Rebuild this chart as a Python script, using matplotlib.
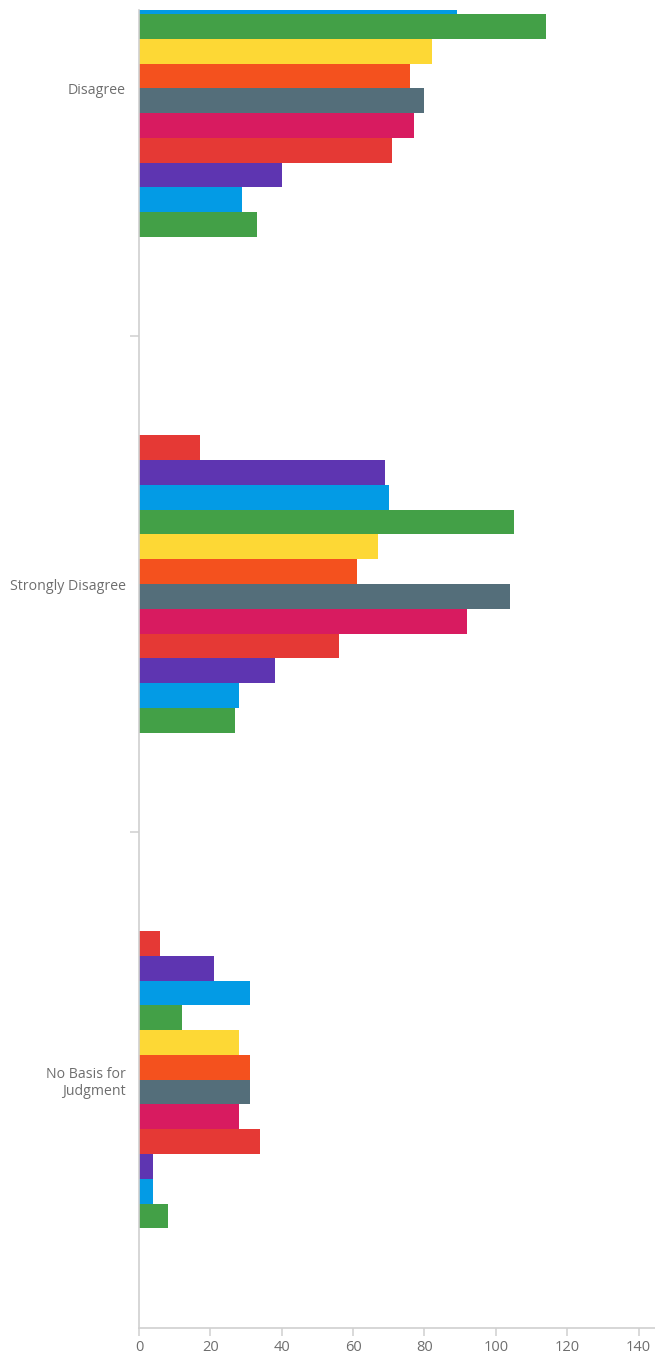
import numpy as np
import matplotlib
matplotlib.use("Agg")
import matplotlib.pyplot as plt

plt.rcParams['font.family'] = ['Open Sans', 'DejaVu Sans']

# response categories, top to bottom
categories = ["Disagree", "Strongly Disagree", "No Basis for\nJudgment"]

# 12 bars per category, listed top to bottom inside each group
# (the first two Disagree bars fall outside the plotted window)
disagree = [np.nan, np.nan, 89, 114, 82, 76, 80, 77, 71, 40, 29, 33]
strongly_disagree = [17, 69, 70, 105, 67, 61, 104, 92, 56, 38, 28, 27]
no_basis = [6, 21, 31, 12, 28, 31, 31, 28, 34, 4, 4, 8]

colors = ["#e53935", "#5e35b1", "#039be5", "#43a047", "#fdd835", "#f4511e",
          "#546e7a", "#d81b60", "#e53935", "#5e35b1", "#039be5", "#43a047"]

xticks = [0, 20, 40, 60, 80, 100, 120, 140]

values = np.array([disagree, strongly_disagree, no_basis], dtype=float)
n_series = values.shape[1]
bar_h = 0.05
cat_pos = np.arange(len(categories))

fig = plt.figure(figsize=(6.55, 13.57), dpi=100)
ax = fig.add_axes([0.2122, 0.0217, 0.7878, 0.9709])

for i in range(n_series):
    offs = -0.3 + bar_h / 2 + bar_h * i
    ax.barh(cat_pos + offs, values[:, i], height=bar_h, color=colors[i],
            linewidth=0)

ax.set_xlim(0, 144.6)
ax.set_ylim(2.5, -0.158)

grey = "#d0d0d0"
txt = "#6e6e6e"
for s in ["top", "right"]:
    ax.spines[s].set_visible(False)
for s in ["left", "bottom"]:
    ax.spines[s].set_color(grey)
    ax.spines[s].set_linewidth(1.2)

ax.set_xticks(xticks)
ax.tick_params(axis="x", length=6, width=1.1, color=grey, labelcolor=txt,
               labelsize=10.5, pad=3)

# boundary ticks between groups, labels at the group centres
ax.set_yticks(cat_pos[:-1] + 0.5)
ax.set_yticklabels([])
ax.tick_params(axis="y", which="major", length=6.5, width=1.1, color=grey)
ax.set_yticks(cat_pos, minor=True)
ax.set_yticklabels(categories, minor=True)
ax.tick_params(axis="y", which="minor", length=0, labelcolor=txt,
               labelsize=10.2, pad=9.5)
for lab in ax.get_yticklabels(minor=True):
    lab.set_horizontalalignment("right")
    lab.set_multialignment("right")

fig.savefig("out.png", dpi=100)
